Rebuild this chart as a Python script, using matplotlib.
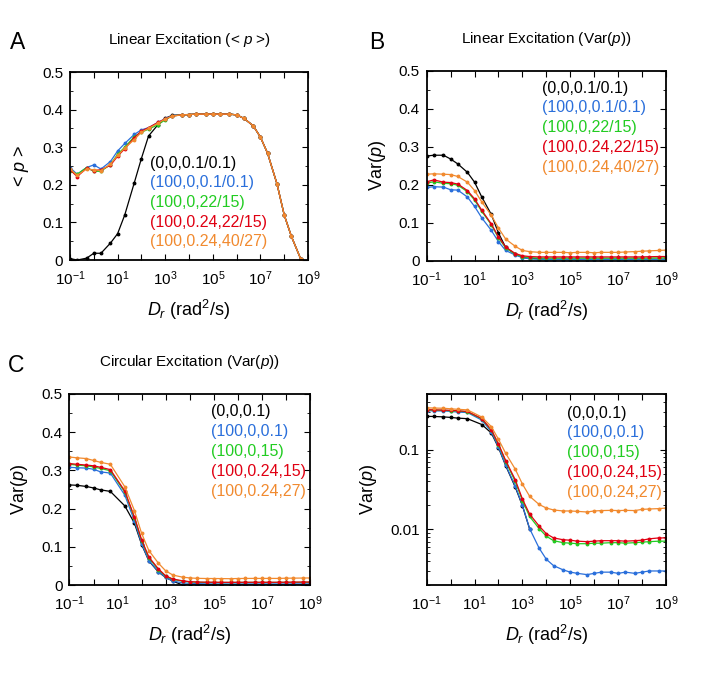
import numpy as np
import matplotlib
matplotlib.use('Agg')
import matplotlib.pyplot as plt
from matplotlib.ticker import MultipleLocator, NullLocator, LogLocator, FixedLocator

plt.rcParams['font.family'] = ['Liberation Sans', 'DejaVu Sans']
plt.rcParams['mathtext.fontset'] = 'custom'
plt.rcParams['mathtext.rm'] = 'Liberation Sans'
plt.rcParams['mathtext.it'] = 'Liberation Sans:italic'
plt.rcParams['mathtext.bf'] = 'Liberation Sans:bold'

# rotational diffusion grid (rad^2/s)
dr_lin = [0.1, 0.2, 0.5, 1, 2, 5, 10, 20, 50, 1e2, 2e2, 5e2, 1e3, 2e3, 5e3, 1e4, 2e4, 5e4,
          1e5, 2e5, 5e5, 1e6, 2e6, 5e6, 1e7, 2e7, 5e7, 1e8, 2e8, 5e8, 1e9]
dr_circ = [0.1, 0.2, 0.5, 1, 2, 5, 20, 50, 1e2, 2e2, 5e2, 1e3, 2e3, 5e3, 1e4, 2e4, 5e4,
           1e5, 2e5, 5e5, 1e6, 2e6, 5e6, 1e7, 2e7, 5e7, 1e8, 2e8, 5e8, 1e9]

colors = ['#000000', '#2a6fdb', '#22cc22', '#e00012', '#f18a2f']
labels_lin = ['(0,0,0.1/0.1)', '(100,0,0.1/0.1)', '(100,0,22/15)', '(100,0.24,22/15)', '(100,0.24,40/27)']
labels_circ = ['(0,0,0.1)', '(100,0,0.1)', '(100,0,15)', '(100,0.24,15)', '(100,0.24,27)']

# A: linear excitation, mean p (points up to 5e8)
tail_a = [0.388, 0.388, 0.388, 0.388, 0.388, 0.386, 0.377, 0.357, 0.327, 0.284, 0.202, 0.12, 0.063, 0.002]
mean_black = [0.004, 0.0, 0.005, 0.018, 0.018, 0.045, 0.07, 0.12, 0.205, 0.27, 0.33, 0.36, 0.377, 0.385,
              0.386, 0.387] + tail_a
mean_blue = [0.246, 0.228, 0.246, 0.253, 0.242, 0.262, 0.290, 0.310, 0.334, 0.346, 0.352, 0.366, 0.376, 0.384,
             0.386, 0.387] + tail_a
mean_green = [0.238, 0.228, 0.246, 0.236, 0.236, 0.254, 0.281, 0.300, 0.328, 0.340, 0.348, 0.360, 0.373, 0.383,
              0.386, 0.387] + tail_a
mean_red = [0.240, 0.222, 0.244, 0.238, 0.240, 0.252, 0.276, 0.296, 0.325, 0.343, 0.352, 0.366, 0.375, 0.383,
            0.386, 0.387] + tail_a
mean_orange = [0.243, 0.225, 0.242, 0.240, 0.238, 0.255, 0.278, 0.298, 0.320, 0.340, 0.350, 0.364, 0.375, 0.383,
               0.386, 0.387] + tail_a

# B: linear excitation, Var(p)
var_lin_black = [0.276, 0.278, 0.278, 0.268, 0.255, 0.233, 0.207, 0.168, 0.122, 0.073, 0.035, 0.017, 0.009,
                 0.006, 0.005, 0.004, 0.004, 0.004, 0.004, 0.004, 0.004, 0.004, 0.004, 0.004, 0.004, 0.004,
                 0.004, 0.004, 0.004, 0.004, 0.004]
var_lin_blue = [0.193, 0.195, 0.194, 0.187, 0.186, 0.168, 0.143, 0.113, 0.080, 0.050, 0.027, 0.015, 0.008,
                0.005, 0.004, 0.003, 0.003, 0.003, 0.003, 0.003, 0.003, 0.003, 0.003, 0.003, 0.003, 0.003,
                0.003, 0.003, 0.003, 0.003, 0.003]
var_lin_green = [0.205, 0.208, 0.204, 0.203, 0.199, 0.182, 0.160, 0.130, 0.095, 0.060, 0.034, 0.017, 0.011,
                 0.008, 0.007, 0.007, 0.007, 0.007, 0.007, 0.007, 0.007, 0.007, 0.007, 0.007, 0.007, 0.007,
                 0.007, 0.007, 0.0072, 0.0074, 0.0075]
var_lin_red = [0.208, 0.213, 0.207, 0.206, 0.202, 0.185, 0.163, 0.133, 0.097, 0.063, 0.036, 0.019, 0.013,
               0.011, 0.010, 0.010, 0.010, 0.010, 0.010, 0.010, 0.010, 0.010, 0.010, 0.010, 0.010, 0.010,
               0.010, 0.010, 0.0105, 0.011, 0.011]
var_lin_orange = [0.228, 0.229, 0.228, 0.227, 0.222, 0.207, 0.185, 0.155, 0.120, 0.086, 0.057, 0.038, 0.027,
                  0.024, 0.022, 0.022, 0.022, 0.022, 0.021, 0.022, 0.022, 0.021, 0.022, 0.022, 0.022, 0.023,
                  0.024, 0.025, 0.026, 0.027, 0.028]

# C/D: circular excitation, Var(p)
var_circ_black = [0.262, 0.261, 0.258, 0.254, 0.249, 0.245, 0.207, 0.162, 0.106, 0.063, 0.034, 0.0198, 0.0101,
                  0, 0, 0, 0, 0, 0, 0, 0, 0, 0, 0, 0, 0, 0, 0, 0, 0]
var_circ_blue = [0.308, 0.307, 0.306, 0.303, 0.296, 0.293, 0.235, 0.168, 0.108, 0.064, 0.035, 0.020, 0.0102,
                 0.0058, 0.0042, 0.0035, 0.0031, 0.0029, 0.0028, 0.0027, 0.0028, 0.0029, 0.0029, 0.0028,
                 0.0029, 0.0028, 0.0029, 0.0030, 0.0030, 0.0030]
var_circ_green = [0.316, 0.314, 0.312, 0.309, 0.305, 0.299, 0.243, 0.176, 0.116, 0.071, 0.040, 0.023, 0.0145,
                  0.0102, 0.0082, 0.0072, 0.0068, 0.0067, 0.0066, 0.0066, 0.0067, 0.0067, 0.0068, 0.0068,
                  0.0067, 0.0068, 0.0069, 0.0070, 0.0071, 0.0071]
var_circ_red = [0.318, 0.316, 0.314, 0.312, 0.308, 0.302, 0.246, 0.178, 0.118, 0.073, 0.042, 0.024, 0.0155,
                0.011, 0.0088, 0.0078, 0.0074, 0.0073, 0.0071, 0.0070, 0.0071, 0.0072, 0.0072, 0.0072,
                0.0071, 0.0072, 0.0073, 0.0076, 0.0078, 0.0078]
var_circ_orange = [0.335, 0.333, 0.331, 0.326, 0.321, 0.316, 0.257, 0.195, 0.135, 0.090, 0.057, 0.037, 0.026,
                   0.0205, 0.0185, 0.0175, 0.0170, 0.0170, 0.0168, 0.0165, 0.0170, 0.0172, 0.0173, 0.0172,
                   0.0173, 0.0172, 0.0178, 0.0180, 0.0182, 0.0185]

series_a = [mean_black, mean_blue, mean_green, mean_red, mean_orange]
series_b = [var_lin_black, var_lin_blue, var_lin_green, var_lin_red, var_lin_orange]
series_c = [var_circ_black, var_circ_blue, var_circ_green, var_circ_red, var_circ_orange]

xlabel = r'$D_r$ (rad$^2$/s)'
dec = [10.0 ** k for k in range(-1, 10)]
dec_labels = [r'$10^{%d}$' % k if k % 2 else '' for k in range(-1, 10)]


def style_axes(ax, log_y=False):
    ax.set_xscale('log')
    ax.set_xlim(0.1, 1e9)
    ax.xaxis.set_major_locator(FixedLocator(dec))
    ax.xaxis.set_minor_locator(NullLocator())
    ax.set_xticklabels(dec_labels)
    if log_y:
        ax.set_yscale('log', nonpositive='mask')
        ax.set_ylim(0.002, 0.5)
        ax.yaxis.set_major_locator(FixedLocator([0.01, 0.1]))
        ax.set_yticklabels(['0.01', '0.1'])
        ax.yaxis.set_minor_locator(LogLocator(base=10, subs=np.arange(2, 10)))
    else:
        ax.set_ylim(0, 0.5)
        yt = [0, 0.1, 0.2, 0.3, 0.4, 0.5]
        ax.set_yticks(yt)
        ax.set_yticklabels(['0', '0.1', '0.2', '0.3', '0.4', '0.5'])
        ax.yaxis.set_minor_locator(MultipleLocator(0.05))
    ax.tick_params(which='both', direction='in', top=True, right=True, labelsize=11, pad=5)
    ax.tick_params(axis='x', which='major', pad=7)
    ax.tick_params(which='major', length=4, width=0.8)
    ax.tick_params(which='minor', length=2.5, width=0.6)
    for s in ax.spines.values():
        s.set_linewidth(1.3)
    ax.set_xlabel(xlabel, fontsize=13, labelpad=7)


def draw(ax, x, series, labels, ylabel, title, leg_x, leg_y):
    for ys, c in zip(series, colors):
        ax.plot(x[:len(ys)], ys, '-', color=c, lw=0.9, marker='o', ms=1.8, mec=c, mfc=c)
    for i, (lab, c) in enumerate(zip(labels, colors)):
        ax.text(leg_x, leg_y - i * 0.104, lab, color=c, fontsize=11.5, transform=ax.transAxes,
                ha='left', va='center')
    ax.set_ylabel(ylabel, fontsize=13, labelpad=8)
    if title:
        ax.set_title(title, fontsize=11, pad=20)


fig = plt.figure(figsize=(7.12, 6.8), dpi=100)
ax_a = fig.add_axes([0.0983, 0.6176, 0.3343, 0.2765])
ax_b = fig.add_axes([0.5993, 0.6166, 0.3361, 0.279])
ax_c = fig.add_axes([0.0976, 0.1397, 0.3378, 0.2809])
ax_d = fig.add_axes([0.5993, 0.1397, 0.3361, 0.2809])

draw(ax_a, dr_lin, series_a, labels_lin, r'< $p$ >', r'Linear Excitation (< $p$ >)', 0.336, 0.514)
style_axes(ax_a)
draw(ax_b, dr_lin, series_b, labels_lin, r'Var($p$)', r'Linear Excitation (Var($p$))', 0.48, 0.909)
style_axes(ax_b)
draw(ax_c, dr_circ, series_c, labels_circ, r'Var($p$)', r'Circular Excitation (Var($p$))', 0.59, 0.907)
style_axes(ax_c)
draw(ax_d, dr_circ, series_c, labels_circ, r'Var($p$)', None, 0.585, 0.90)
style_axes(ax_d, log_y=True)

fig.text(0.014, 0.937, 'A', fontsize=16.5, va='center', ha='left')
fig.text(0.518, 0.937, 'B', fontsize=16.5, va='center', ha='left')
fig.text(0.011, 0.463, 'C', fontsize=16.5, va='center', ha='left')

fig.savefig('out.png', dpi=100)
